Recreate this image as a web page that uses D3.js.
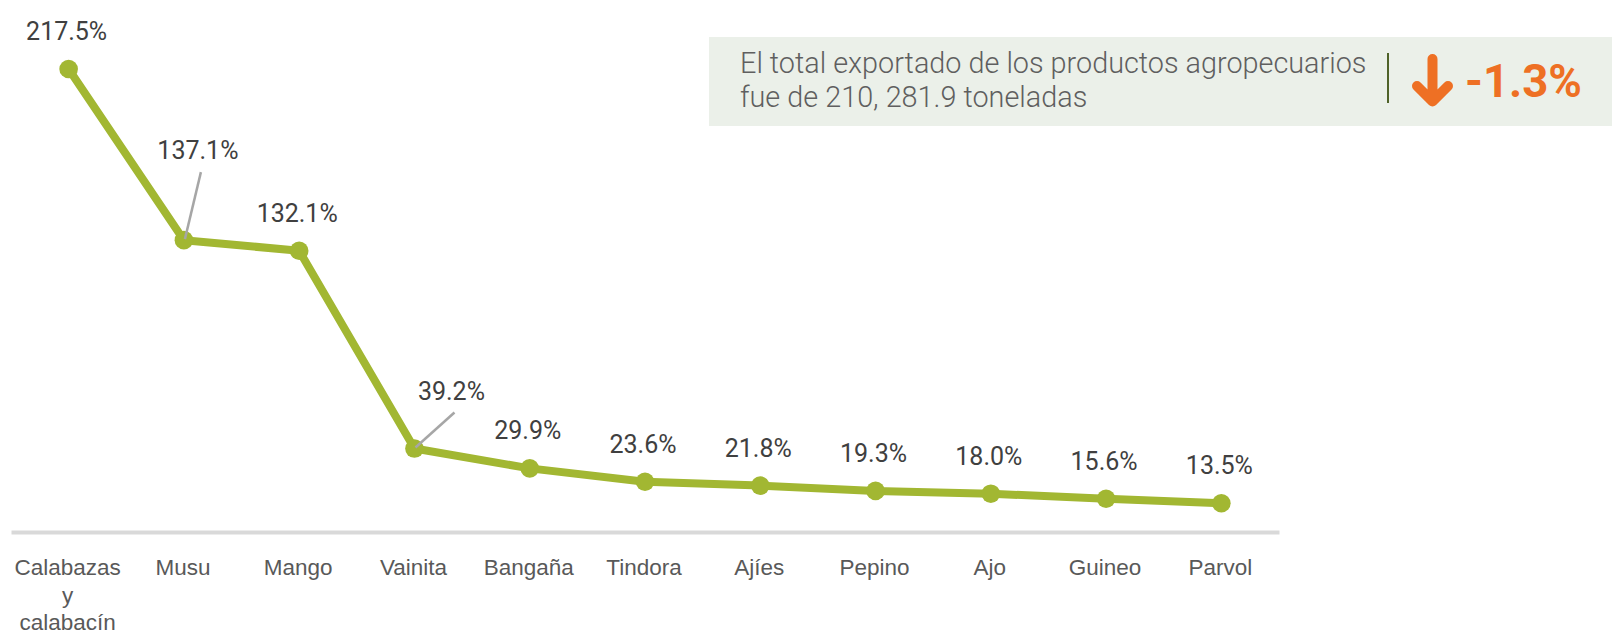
<!DOCTYPE html>
<html>
<head>
<meta charset="utf-8">
<script src="https://cdn.jsdelivr.net/npm/d3@7"></script>
<style>
  body { margin: 0; background: #fff; }
  svg { display: block; font-family: Roboto, "Noto Sans", sans-serif; }
</style>
</head>
<body>
<svg id="chart" width="1614" height="634"></svg>
<script>
// datos
var productos = ["Calabazas y calabacín", "Musu", "Mango", "Vainita", "Bangaña", "Tindora", "Ajíes", "Pepino", "Ajo", "Guineo", "Parvol"];
var variacion = [217.5, 137.1, 132.1, 39.2, 29.9, 23.6, 21.8, 19.3, 18.0, 15.6, 13.5];
var resumenLineas = ["El total exportado de los productos agropecuarios", "fue de 210, 281.9 toneladas"];
var variacionTotal = "-1.3%";

var svg = d3.select("#chart");

var verde = "#a2b732", naranja = "#ee7024";

var data = productos.map((p, i) => ({ producto: p, valor: variacion[i] }));

var xScale = d3.scaleBand()
        .domain(productos)
        .range([11, 1279]);

var yScale = d3.scaleLinear()
        .domain([0, d3.max(variacion)])
        .range([532, 69]);

var cx = d => xScale(d.producto) + xScale.bandwidth() / 2;

// eje x (solo linea base + etiquetas)
var xAxis = d3.axisBottom(xScale).tickSize(0).tickPadding(0);

var gx = svg.append("g")
        .attr("transform", "translate(0," + yScale(0) + ")")
        .call(xAxis);

gx.select(".domain")
        .attr("stroke", "#d9d9d9")
        .attr("stroke-width", 4);

gx.selectAll(".tick text").remove();

gx.selectAll(".tick")
        .append("text")
        .attr("fill", "#595959")
        .attr("font-size", "22.5px")
        .attr("text-anchor", "middle")
        .each(function(d) {
            var palabras = d.split(" ");
            var t = d3.select(this);
            palabras.forEach((w, i) => {
                t.append("tspan")
                    .attr("x", -1)
                    .attr("y", 43 + i * 27.5)
                    .text(w);
            });
        });

// linea
var line = d3.line()
        .x(cx)
        .y(d => yScale(d.valor));

svg.append("path")
        .datum(data)
        .attr("fill", "none")
        .attr("stroke", verde)
        .attr("stroke-width", 8)
        .attr("stroke-linejoin", "round")
        .attr("d", line);

svg.selectAll(".punto")
        .data(data)
        .enter()
        .append("circle")
        .classed("punto", true)
        .attr("cx", cx)
        .attr("cy", d => yScale(d.valor))
        .attr("r", 9.3)
        .attr("fill", verde);

// etiquetas con linea guia
var guias = { "Musu": [14, -90], "Vainita": [37, -58] };

svg.selectAll(".guia")
        .data(data.filter(d => guias[d.producto]))
        .enter()
        .append("line")
        .classed("guia", true)
        .attr("x1", d => cx(d) + guias[d.producto][0] + 3)
        .attr("y1", d => yScale(d.valor) + guias[d.producto][1] + 22)
        .attr("x2", d => cx(d) + 1)
        .attr("y2", d => yScale(d.valor) - 1)
        .attr("stroke", "#a6a6a6")
        .attr("stroke-width", 2.5);

svg.selectAll(".etiqueta")
        .data(data)
        .enter()
        .append("text")
        .classed("etiqueta", true)
        .attr("x", d => cx(d) + (guias[d.producto] ? guias[d.producto][0] : -2))
        .attr("y", d => yScale(d.valor) + (guias[d.producto] ? guias[d.producto][1] : -38) + 9)
        .attr("text-anchor", "middle")
        .attr("font-size", "25px")
        .attr("fill", "#404040")
        .text(d => d.valor.toFixed(1) + "%");

// recuadro resumen
var caja = svg.append("g");

caja.append("rect")
        .attr("x", 709)
        .attr("y", 37)
        .attr("width", 903)
        .attr("height", 89)
        .attr("fill", "#ebf0e9");

caja.selectAll(".resumen")
        .data(resumenLineas)
        .enter()
        .append("text")
        .classed("resumen", true)
        .attr("x", 740)
        .attr("y", (d, i) => 73 + i * 34)
        .attr("font-size", "28.8px")
        .attr("font-weight", 300)
        .attr("fill", "#5f5f5f")
        .text(d => d);

caja.append("line")
        .attr("x1", 1388).attr("x2", 1388)
        .attr("y1", 53).attr("y2", 103)
        .attr("stroke", "#4f6228")
        .attr("stroke-width", 2);

caja.append("path")
        .attr("d", "M1432.5,59V100M1417,86L1432.5,101.5L1448,86")
        .attr("fill", "none")
        .attr("stroke", naranja)
        .attr("stroke-width", 10)
        .attr("stroke-linecap", "round")
        .attr("stroke-linejoin", "round");

caja.append("text")
        .attr("x", 1465)
        .attr("y", 97)
        .attr("font-size", "45.5px")
        .attr("font-weight", 700)
        .attr("fill", naranja)
        .text(variacionTotal);
</script>
</body>
</html>
